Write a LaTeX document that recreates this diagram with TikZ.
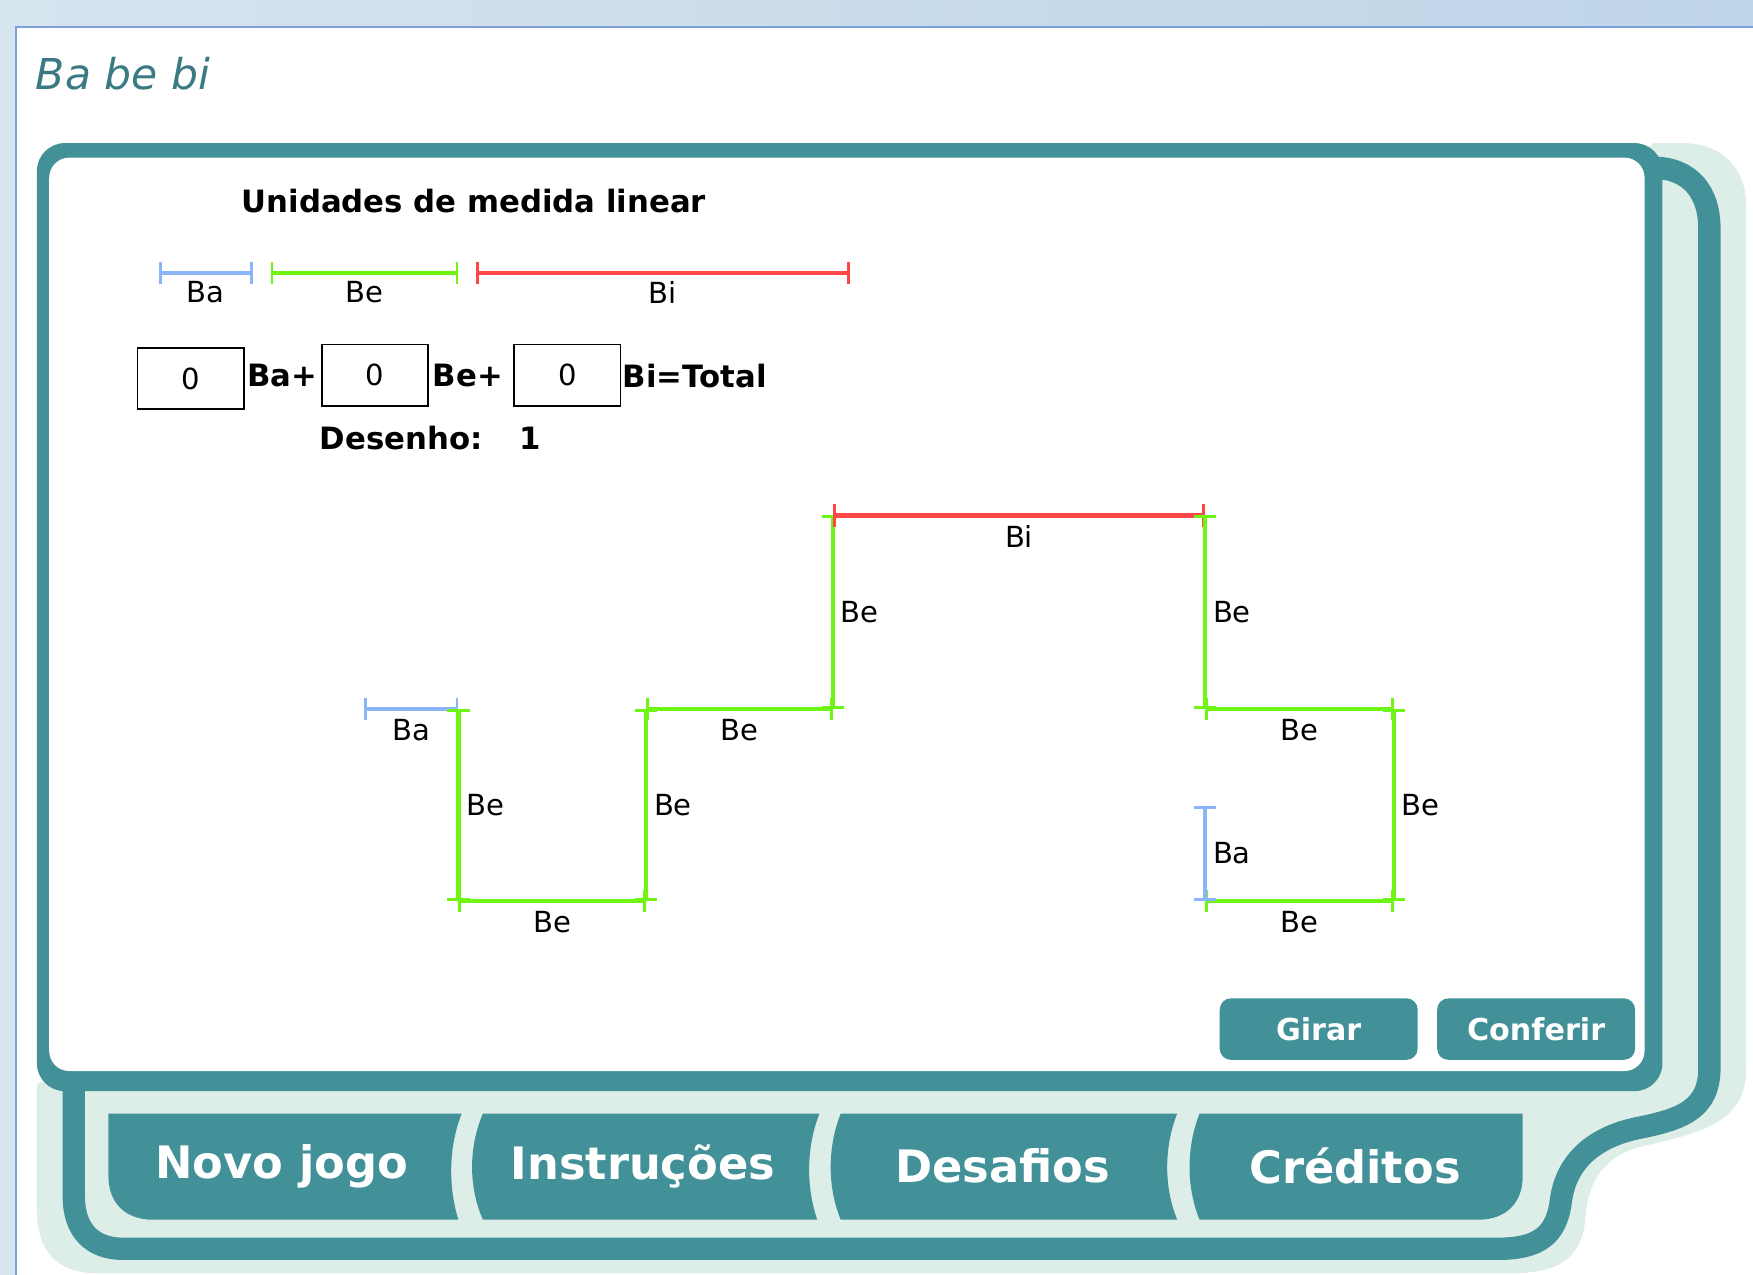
\documentclass[tikz,border=0pt]{standalone}
\usepackage{fontspec}
\setmainfont{DejaVu Sans}
\usepackage{xcolor}
\usepackage{tikz}
\usetikzlibrary{arrows.meta}

\definecolor{panelteal}{RGB}{66,144,152}
\definecolor{panellight}{RGB}{221,238,232}
\definecolor{titleteal}{RGB}{58,122,130}
\definecolor{winleft}{RGB}{214,228,238}
\definecolor{winright}{RGB}{190,212,232}
\definecolor{winline}{RGB}{125,160,220}
\definecolor{unitblue}{RGB}{140,180,250}
\definecolor{unitgreen}{RGB}{110,245,20}
\definecolor{unitred}{RGB}{255,70,70}

\begin{document}
\begin{tikzpicture}[x=1pt,y=-1pt,
    unit/.style={line width=4pt,{Bar[width=20pt,line width=2.5pt]}-{Bar[width=20pt,line width=2.5pt]}},
    lbl/.style={inner sep=0pt,text=black,font=\fontsize{26}{28}\selectfont},
    heading/.style={inner sep=0pt,text=black,font=\bfseries\fontsize{27.5}{30}\selectfont},
    numbox/.style={draw=black,line width=1.5pt,minimum width=95pt,minimum height=55pt,inner sep=0pt,font=\fontsize{26}{28}\selectfont},
    button/.style={fill=panelteal,rounded corners=10pt,minimum width=177pt,minimum height=55pt,text=white,font=\bfseries\fontsize{27}{30}\selectfont},
    tabtext/.style={text=white,font=\bfseries\fontsize{40}{42}\selectfont}]

    \useasboundingbox (0,0) rectangle (1568,1140);
    \fill[white] (0,0) rectangle (1568,1140);
    \shade[left color=winleft,right color=winright] (0,0) rectangle (1568,24);
    \fill[winleft] (0,24) rectangle (14,1140);
    \draw[winline,line width=2pt] (14,1140) -- (14,24) -- (1568,24);

    \node[anchor=west,inner sep=0pt,text=titleteal,font=\itshape\fontsize{38}{40}\selectfont] (nome) at (32,66) {Ba be bi};

    \fill[panellight] (1480,128) -- (1505,128) .. controls (1540,128) and (1562,150) .. (1562,185) -- (1562,955) .. controls (1562,1000) and (1530,1012) .. (1470,1025) .. controls (1432,1034) and (1420,1060) .. (1418,1090) .. controls (1415,1125) and (1395,1139) .. (1350,1139) -- (90,1139) .. controls (50,1139) and (33,1120) .. (33,1080) -- (33,970) -- cycle;
    \draw[panelteal,line width=20pt] (1478,150) .. controls (1512,150) and (1529,172) .. (1529,205) -- (1529,955) .. controls (1529,992) and (1505,1001) .. (1465,1009) .. controls (1422,1018) and (1400,1042) .. (1396,1075) .. controls (1392,1105) and (1376,1117) .. (1340,1117) -- (110,1117) .. controls (82,1117) and (66,1100) .. (66,1070) -- (66,970);

    \fill[panelteal] (97,996) -- (413,996) .. controls (401,1026) and (401,1062) .. (410,1091) -- (137,1091) .. controls (112,1091) and (97,1076) .. (97,1052) -- cycle;
    \fill[panelteal] (432,996) -- (733,996) .. controls (721,1026) and (721,1062) .. (731,1091) -- (432,1091) .. controls (419,1062) and (419,1026) .. (432,996) -- cycle;
    \fill[panelteal] (752,996) -- (1053,996) .. controls (1041,1026) and (1041,1062) .. (1053,1091) -- (752,1091) .. controls (740,1062) and (740,1026) .. (752,996) -- cycle;
    \fill[panelteal] (1073,996) -- (1362,996) -- (1362,1052) .. controls (1362,1076) and (1347,1091) .. (1322,1091) -- (1073,1091) .. controls (1061,1062) and (1061,1026) .. (1073,996) -- cycle;
    \node[tabtext] (novo) at (252,1043) {Novo jogo};
    \node[tabtext] (instrucoes) at (575,1043) {Instruções};
    \node[tabtext] (desafios) at (897,1043) {Desafios};
    \node[tabtext] (creditos) at (1212,1043) {Créditos};

    \fill[panelteal,rounded corners=25pt] (33,128) rectangle (1487,976);
    \fill[white,rounded corners=18pt] (44,141) rectangle (1471,958);

    \node[heading,anchor=west] (titulo) at (216,180) {Unidades de medida linear};

    \coordinate (ba1) at (142,244);
    \coordinate (ba2) at (226,244);
    \coordinate (be1) at (242,244);
    \coordinate (be2) at (410,244);
    \coordinate (bi1) at (426,244);
    \coordinate (bi2) at (760,244);
    \draw[unit,unitblue] (ba1) -- node[lbl,below=6pt]{Ba} (ba2);
    \draw[unit,unitgreen] (be1) -- node[lbl,below=6pt]{Be} (be2);
    \draw[unit,unitred] (bi1) -- node[lbl,below=6pt]{Bi} (bi2);

    \node[numbox] (qba) at (170.5,338.5) {0};
    \node[heading,anchor=west] (somaba) at (221,336) {Ba+};
    \node[numbox] (qbe) at (335.5,335.5) {0};
    \node[heading,anchor=west] (somabe) at (387,336) {Be+};
    \node[numbox] (qbi) at (507.5,335.5) {0};
    \node[heading,anchor=west] (total) at (557,336) {Bi=Total};
    \node[heading,anchor=west] (desenho) at (286,392) {Desenho:};
    \node[heading] (numero) at (474,392) {1};

    \coordinate (p1) at (326,634);
    \coordinate (p2) at (410,634);
    \coordinate (p3) at (410,806);
    \coordinate (p4) at (578,806);
    \coordinate (p5) at (578,634);
    \coordinate (p6) at (745,634);
    \coordinate (p7) at (745,461);
    \coordinate (p8) at (1078,461);
    \coordinate (p9) at (1078,634);
    \coordinate (p10) at (1247,634);
    \coordinate (p11) at (1247,806);
    \coordinate (p12) at (1078,806);
    \coordinate (p13) at (1078,721);
    \draw[unit,unitblue] (p1) -- node[lbl,below=7pt]{Ba} (p2);
    \draw[unit,unitgreen] (p2) -- node[lbl,right=5pt]{Be} (p3);
    \draw[unit,unitgreen] (p3) -- node[lbl,below=7pt]{Be} (p4);
    \draw[unit,unitgreen] (p4) -- node[lbl,right=5pt]{Be} (p5);
    \draw[unit,unitgreen] (p5) -- node[lbl,below=7pt]{Be} (p6);
    \draw[unit,unitgreen] (p6) -- node[lbl,right=5pt]{Be} (p7);
    \draw[unit,unitred] (p7) -- node[lbl,below=7pt]{Bi} (p8);
    \draw[unit,unitgreen] (p8) -- node[lbl,right=5pt]{Be} (p9);
    \draw[unit,unitgreen] (p9) -- node[lbl,below=7pt]{Be} (p10);
    \draw[unit,unitgreen] (p10) -- node[lbl,right=5pt]{Be} (p11);
    \draw[unit,unitgreen] (p11) -- node[lbl,below=7pt]{Be} (p12);
    \draw[unit,unitblue] (p12) -- node[lbl,right=5pt]{Ba} (p13);

    \node[button] (girar) at (1179.5,920.5) {Girar};
    \node[button] (conferir) at (1374,920.5) {Conferir};
\end{tikzpicture}
\end{document}
